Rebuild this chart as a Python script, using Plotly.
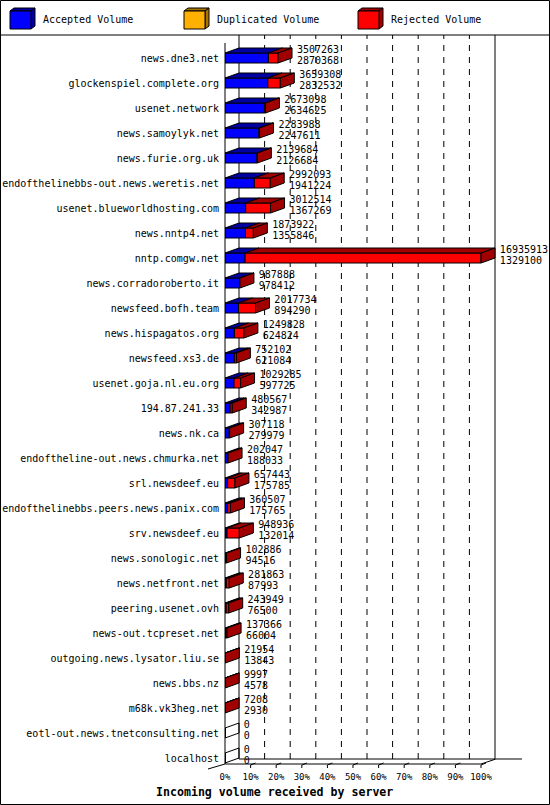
import plotly.graph_objects as go

# incoming volume per server (upper label = total, lower label = accepted)
servers = [
    "news.dne3.net", "glockenspiel.complete.org", "usenet.network",
    "news.samoylyk.net", "news.furie.org.uk",
    "endofthelinebbs-out.news.weretis.net", "usenet.blueworldhosting.com",
    "news.nntp4.net", "nntp.comgw.net", "news.corradoroberto.it",
    "newsfeed.bofh.team", "news.hispagatos.org", "newsfeed.xs3.de",
    "usenet.goja.nl.eu.org", "194.87.241.33", "news.nk.ca",
    "endoftheline-out.news.chmurka.net", "srl.newsdeef.eu",
    "endofthelinebbs.peers.news.panix.com", "srv.newsdeef.eu",
    "news.sonologic.net", "news.netfront.net", "peering.usenet.ovh",
    "news-out.tcpreset.net", "outgoing.news.lysator.liu.se", "news.bbs.nz",
    "m68k.vk3heg.net", "eotl-out.news.tnetconsulting.net", "localhost",
]
total_volume = [
    3507263, 3659308, 2673098, 2283988, 2139684, 2992093, 3012514, 1873922,
    16935913, 987888, 2017734, 1249828, 752102, 1029285, 480567, 307118,
    202047, 657443, 360507, 948936, 102886, 281863, 243949, 137366, 21954,
    9997, 7208, 0, 0,
]
accepted_volume = [
    2870368, 2832532, 2634625, 2247611, 2126684, 1941224, 1367269, 1355846,
    1329100, 978412, 894290, 624824, 621084, 597725, 342987, 279979,
    188033, 175785, 175765, 132014, 94516, 87993, 76500, 66004, 13843,
    4578, 2930, 0, 0,
]
pct_ticks = [0, 10, 20, 30, 40, 50, 60, 70, 80, 90, 100]

W, H = 550, 805
L, T, B = 225, 35, 764          # plot area in pixels
XS = 2.56                        # pixels per percent
ROW0, ROWH = 58, 25              # first row centre, row pitch
DX = 14 / XS                     # 3d depth in x (data units)
DY = 5 / ROWH                    # 3d depth in y (rows)
HALF = 5 / ROWH                  # half bar height

BLUE, BLUE_D = "#0000ff", "#0000a0"
ORANGE, ORANGE_D = "#ffb000", "#a87400"
RED, RED_D = "#ff0000", "#a00000"
FONT = "DejaVu Sans Mono"


def pxp(x):
    return (x - L) / (W - L)


def pyp(y):
    return (B - y) / (B - T)


vmax = max(total_volume)
acc = [a / vmax * 100 for a in accepted_volume]
rej = [(t - a) / vmax * 100 for t, a in zip(total_volume, accepted_volume)]
rows = list(range(len(servers)))

fig = go.Figure()

# front faces
fig.add_trace(go.Bar(y=rows, x=acc, orientation="h", width=2 * HALF,
                     marker=dict(color=BLUE, line=dict(color="black", width=1))))
fig.add_trace(go.Bar(y=rows, x=rej, base=acc, orientation="h", width=2 * HALF,
                     marker=dict(color=RED, line=dict(color="black", width=1))))


def poly_trace(xs, ys, fill, line_w=1):
    return go.Scatter(x=xs, y=ys, mode="lines", fill="toself" if fill else "none",
                      fillcolor=fill, line=dict(color="black", width=line_w),
                      hoverinfo="skip")


# top faces and side faces
tb_x, tb_y, tr_x, tr_y, sd_x, sd_y, z_x, z_y = [], [], [], [], [], [], [], []
for i in rows:
    a, r = acc[i], rej[i]
    yt = i - HALF
    if total_volume[i] == 0:
        z_x += [0, DX, DX, 0, 0, None]
        z_y += [yt, yt - DY, i + HALF - DY, i + HALF, yt, None]
        continue
    tb_x += [0, a, a + DX, DX, 0, None]
    tb_y += [yt, yt, yt - DY, yt - DY, yt, None]
    tr_x += [a, a + r, a + r + DX, a + DX, a, None]
    tr_y += [yt, yt, yt - DY, yt - DY, yt, None]
    e = a + r
    sd_x += [e, e + DX, e + DX, e, e, None]
    sd_y += [yt, yt - DY, i + HALF - DY, i + HALF, yt, None]

fig.add_trace(poly_trace(tb_x, tb_y, BLUE_D))
fig.add_trace(poly_trace(tr_x, tr_y, RED_D))
fig.add_trace(poly_trace(sd_x, sd_y, RED_D))
fig.add_trace(poly_trace(z_x, z_y, None))

# value labels
ends = [a + r + DX + 1.9 for a, r in zip(acc, rej)]
fig.add_trace(go.Scatter(x=ends, y=[i - 0.3 for i in rows], mode="text",
                         text=[str(v) for v in total_volume], textposition="middle right",
                         textfont=dict(family=FONT, size=10, color="black"),
                         cliponaxis=False, hoverinfo="skip"))
fig.add_trace(go.Scatter(x=ends, y=[i + 0.12 for i in rows], mode="text",
                         text=[str(v) for v in accepted_volume], textposition="middle right",
                         textfont=dict(family=FONT, size=10, color="black"),
                         cliponaxis=False, hoverinfo="skip"))

shapes = []
line = dict(color="black", width=1)
# back wall dashed grid
for p in pct_ticks[1:-1]:
    shapes.append(dict(type="line", xref="x", yref="paper", x0=p + DX, x1=p + DX,
                       y0=pyp(759), y1=1, layer="below",
                       line=dict(color="black", width=1, dash="6px,6px")))
for p in (0, 100):
    shapes.append(dict(type="line", xref="x", yref="paper", x0=p + DX, x1=p + DX,
                       y0=pyp(759), y1=1, layer="below", line=line))
# floor
shapes.append(dict(type="path", xref="paper", yref="paper", line=line,
                   path="M %f,%f L %f,%f L %f,%f L %f,%f L %f,%f" % (
                       pxp(208), pyp(769), pxp(225), pyp(764), pxp(481), pyp(764),
                       pxp(496), pyp(759), pxp(522), pyp(759))))
shapes.append(dict(type="line", xref="x", yref="paper", x0=DX, x1=100 + DX,
                   y0=pyp(759), y1=pyp(759), line=line))
# front axis
shapes.append(dict(type="line", xref="paper", yref="paper", x0=0, x1=0,
                   y0=pyp(764), y1=pyp(43), line=line))
# tick marks on the floor
for p in pct_ticks[1:]:
    shapes.append(dict(type="path", xref="paper", yref="paper", line=line,
                       path="M %f,%f L %f,%f L %f,%f" % (
                           pxp(L + p * XS), pyp(768), pxp(L + p * XS), pyp(765),
                           pxp(L + p * XS + 5), pyp(763))))
# frame and legend separator
shapes.append(dict(type="rect", xref="paper", yref="paper", x0=pxp(0.5), x1=pxp(549.5),
                   y0=pyp(804.5), y1=pyp(0.5), line=line))
shapes.append(dict(type="line", xref="paper", yref="paper", x0=pxp(0), x1=pxp(550),
                   y0=pyp(35), y1=pyp(35), line=line))

# legend boxes
annotations = []
legend_items = [("Accepted Volume", BLUE, BLUE_D, 10),
                ("Duplicated Volume", ORANGE, ORANGE_D, 184),
                ("Rejected Volume", RED, RED_D, 358)]
for name, c, cd, x0 in legend_items:
    x1 = x0 + 21
    shapes.append(dict(type="path", xref="paper", yref="paper", fillcolor=cd, line=line,
                       path="M %f,%f L %f,%f L %f,%f L %f,%f Z" % (
                           pxp(x0), pyp(11), pxp(x1), pyp(11), pxp(x1 + 4), pyp(8),
                           pxp(x0 + 4), pyp(8))))
    shapes.append(dict(type="path", xref="paper", yref="paper", fillcolor=cd, line=line,
                       path="M %f,%f L %f,%f L %f,%f L %f,%f Z" % (
                           pxp(x1), pyp(11), pxp(x1 + 4), pyp(8), pxp(x1 + 4), pyp(26),
                           pxp(x1), pyp(29))))
    shapes.append(dict(type="rect", xref="paper", yref="paper", fillcolor=c, line=line,
                       x0=pxp(x0), x1=pxp(x1), y0=pyp(29), y1=pyp(11)))
    annotations.append(dict(xref="paper", yref="paper", x=pxp(x0 + 31), y=pyp(20),
                            text=name, showarrow=False, xanchor="left", yanchor="middle",
                            font=dict(family=FONT, size=10, color="black")))

annotations.append(dict(xref="paper", yref="paper", x=pxp(274), y=pyp(792),
                        text="<b>Incoming volume received by server</b>", showarrow=False,
                        xanchor="center", yanchor="middle",
                        font=dict(family=FONT, size=11.6, color="black")))

fig.update_layout(
    width=W, height=H, barmode="overlay", showlegend=False,
    margin=dict(l=L, r=0, t=T, b=H - B),
    paper_bgcolor="white", plot_bgcolor="white",
    shapes=shapes, annotations=annotations,
    xaxis=dict(range=[0, (W - L) / XS], tickvals=pct_ticks,
               ticktext=["%d%%" % p for p in pct_ticks], ticks="outside", ticklen=4,
               tickcolor="rgba(0,0,0,0)", showgrid=False, zeroline=False, showline=False,
               tickfont=dict(family=FONT, size=9, color="black")),
    yaxis=dict(range=[(B - ROW0) / ROWH, (T - ROW0) / ROWH], tickvals=rows,
               ticktext=servers, ticks="outside", ticklen=3, tickcolor="rgba(0,0,0,0)",
               showgrid=False, zeroline=False, showline=False,
               tickfont=dict(family=FONT, size=10, color="black")),
)

# page body has a default margin; drop it so the figure sits at the window corner
fig.write_html("out.html", config={"displayModeBar": False},
               post_script="document.body.style.margin='0';")
